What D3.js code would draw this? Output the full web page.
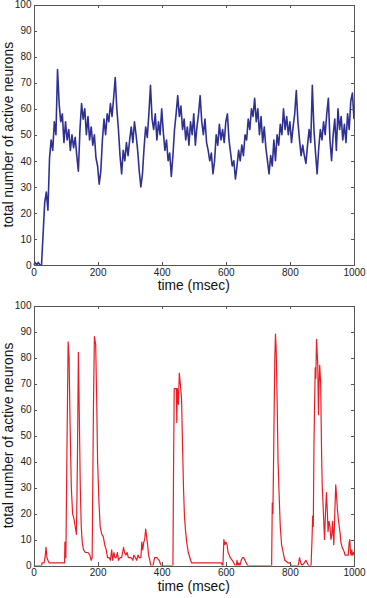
<!DOCTYPE html>
<html>
<head>
<meta charset="utf-8">
<script src="https://cdn.jsdelivr.net/npm/d3@7"></script>
<style>
  body { margin: 0; background: #fff; }
  svg { display: block; font-family: "Liberation Sans", Arial, sans-serif; }
  .axis path, .axis line { stroke: #555; shape-rendering: crispEdges; }
  .axis text { fill: #222; font-size: 10px; }
  .axis-label { fill: #111; font-size: 13.8px; }
</style>
</head>
<body>
<div id="chart"></div>
<script>
// sampled trace of the synchronous network (time ms, active neurons)
const blueSeries = [
  [0,0],[5,1],[10,0],[15,1],[20,0],[25,0],[30,12],[35,24],[40,28],[45,21],[50,41],[55,48],[60,44],[65,55],[70,50],
  [75,75],[80,62],[85,55],[90,58],[95,47],[100,55],[105,48],[110,52],[115,44],[120,50],[125,45],[130,49],[135,42],
  [140,36],[145,52],[150,62],[155,56],[160,60],[165,50],[170,57],[175,48],[180,53],[185,46],[190,50],[195,41],
  [200,38],[205,31],[210,36],[215,48],[220,56],[225,50],[230,58],[235,55],[240,62],[245,57],[250,64],[255,72],
  [260,60],[265,52],[270,42],[275,35],[280,44],[285,40],[290,47],[295,42],[300,48],[305,53],[310,47],[315,55],
  [320,50],[325,44],[330,36],[335,30],[340,35],[345,45],[350,53],[355,49],[360,58],[365,69],[370,56],[375,52],
  [380,58],[385,48],[390,55],[395,50],[400,60],[405,51],[410,44],[415,48],[420,40],[425,43],[430,34],[435,42],
  [440,52],[445,58],[450,65],[455,57],[460,61],[465,52],[470,56],[475,48],[480,53],[485,46],[490,55],[495,50],
  [500,58],[505,46],[510,53],[515,58],[520,65],[525,55],[530,50],[535,56],[540,47],[545,44],[550,40],[555,43],
  [560,35],[565,40],[570,50],[575,46],[580,54],[585,48],[590,52],[595,47],[600,55],[605,58],[610,48],[615,43],
  [620,38],[625,40],[630,33],[635,38],[640,44],[645,40],[650,46],[655,42],[660,50],[665,48],[670,56],[675,52],
  [680,60],[685,57],[690,64],[695,55],[700,60],[705,50],[710,57],[715,47],[720,53],[725,45],[730,40],[735,35],
  [740,42],[745,38],[750,48],[755,40],[760,50],[765,46],[770,54],[775,50],[780,60],[785,52],[790,57],[795,50],
  [800,55],[805,47],[810,53],[815,58],[820,67],[825,55],[830,48],[835,42],[840,46],[845,42],[850,39],[855,46],
  [860,52],[865,47],[870,69],[875,52],[880,43],[885,35],[890,45],[895,52],[900,48],[905,55],[910,50],[915,58],
  [920,64],[925,48],[930,40],[935,50],[940,56],[945,44],[950,60],[955,52],[960,57],[965,48],[970,54],[975,47],
  [980,58],[985,52],[990,63],[995,66],[1000,56]
];

// bursting network trace
const redSeries = [
  [0,0],[25,0],[27,1],[33,1],[36,3],[39,7],[42,3],[45,2],[49,1],[97,1],[98,9],[101,3],[104,40],[108,86],[111,80],
  [114,55],[118,30],[122,20],[126,18],[130,15],[134,12],[137,40],[140,82],[143,57],[146,30],[149,15],[152,9],
  [156,6],[162,5],[170,5],[176,4],[180,2],[183,3],[187,60],[190,88],[194,85],[197,65],[200,40],[204,25],[208,15],
  [213,12],[218,11],[222,8],[227,6],[231,3],[236,3],[240,2],[244,6],[247,2],[251,5],[254,3],[258,3],[262,5],
  [265,2],[270,3],[275,3],[278,5],[281,7],[284,5],[288,4],[292,5],[296,3],[305,3],[310,2],[313,4],[318,3],
  [322,2],[326,4],[330,3],[335,3],[338,9],[341,6],[344,9],[347,10],[350,14],[353,11],[356,8],[359,4],[363,2],
  [366,0],[373,0],[378,3],[385,3],[392,2],[398,0],[435,0],[437,38],[439,68],[446,68],[447,55],[449,68],[452,62],
  [455,74],[458,70],[462,64],[465,46],[468,30],[471,19],[474,14],[478,9],[483,5],[488,3],[493,1],[587,1],[589,0],
  [591,0],[594,10],[597,8],[600,9],[604,8],[607,5],[611,4],[614,3],[620,2],[625,1],[629,0],[633,0],[635,2],
  [638,0],[641,1],[644,0],[648,2],[652,3],[656,3],[660,2],[664,1],[668,0],[743,0],[745,24],[747,20],[750,50],
  [753,80],[755,89],[757,84],[760,65],[763,40],[767,25],[770,15],[774,8],[779,5],[784,2],[795,1],[800,1],[805,0],
  [826,0],[830,3],[834,1],[838,0],[845,1],[850,2],[854,1],[858,0],[866,0],[869,10],[871,19],[873,15],[875,46],
  [877,62],[879,76],[881,72],[883,87],[885,82],[887,77],[889,58],[891,70],[893,77],[896,70],[899,42],[901,30],
  [904,22],[908,10],[911,20],[914,28],[917,20],[919,13],[922,17],[925,15],[928,10],[931,12],[933,17],[935,13],
  [937,8],[940,20],[943,31],[946,26],[948,22],[951,18],[954,15],[957,12],[959,9],[963,7],[967,6],[970,5],
  [972,4],[982,4],[985,9],[987,10],[989,5],[991,4],[993,6],[995,4],[998,5],[1000,4]
];

const xTicks = [0, 200, 400, 600, 800, 1000];
const yTicks = [0, 10, 20, 30, 40, 50, 60, 70, 80, 90, 100];
const xLabel = 'time (msec)';
const yLabel = 'total number of active neurons';

const W = 367, H = 598;
const svg = d3.select('#chart').append('svg')
  .attr('width', W).attr('height', H);

function drawPanel(series, color, width, top, bottom, id) {
  const left = 33.5, right = 354;
  const x = d3.scaleLinear().domain([0, 1000]).range([left, right]);
  const y = d3.scaleLinear().domain([0, 100]).range([bottom, top]);
  const tick = 3.5;
  const fmt = d3.format('d');

  svg.append('clipPath').attr('id', id)
    .append('rect')
    .attr('x', left).attr('y', top)
    .attr('width', right - left).attr('height', bottom - top);

  const line = d3.line()
    .x(d => x(d[0]))
    .y(d => y(d[1]));

  svg.append('path')
    .datum(series)
    .attr('clip-path', `url(#${id})`)
    .attr('fill', 'none')
    .attr('stroke', color)
    .attr('stroke-width', width)
    .attr('stroke-linejoin', 'round')
    .attr('d', line);

  svg.append('g').attr('class', 'axis')
    .attr('transform', `translate(0,${bottom})`)
    .call(d3.axisBottom(x).tickValues(xTicks).tickFormat(fmt).tickSize(-tick).tickSizeOuter(0).tickPadding(3.5));

  svg.append('g').attr('class', 'axis')
    .attr('transform', `translate(0,${top})`)
    .call(d3.axisTop(x).tickValues(xTicks).tickSize(-tick).tickSizeOuter(0).tickFormat(''));

  svg.append('g').attr('class', 'axis')
    .attr('transform', `translate(${left},0)`)
    .call(d3.axisLeft(y).tickValues(yTicks).tickFormat(fmt).tickSize(-tick).tickSizeOuter(0).tickPadding(2));

  svg.append('g').attr('class', 'axis')
    .attr('transform', `translate(${right},0)`)
    .call(d3.axisRight(y).tickValues(yTicks).tickSize(-tick).tickSizeOuter(0).tickFormat(''));

  svg.append('text')
    .attr('class', 'axis-label')
    .attr('x', (left + right) / 2)
    .attr('y', bottom + 25)
    .attr('text-anchor', 'middle')
    .text(xLabel);

  svg.append('text')
    .attr('class', 'axis-label')
    .attr('transform', `translate(13,${(top + bottom) / 2}) rotate(-90)`)
    .attr('text-anchor', 'middle')
    .text(yLabel);
}

drawPanel(blueSeries, '#2e3192', 1.6, 4.5, 265, 'clip-top');
drawPanel(redSeries, '#ed1c24', 1.2, 305.5, 565.5, 'clip-bottom');
</script>
</body>
</html>
